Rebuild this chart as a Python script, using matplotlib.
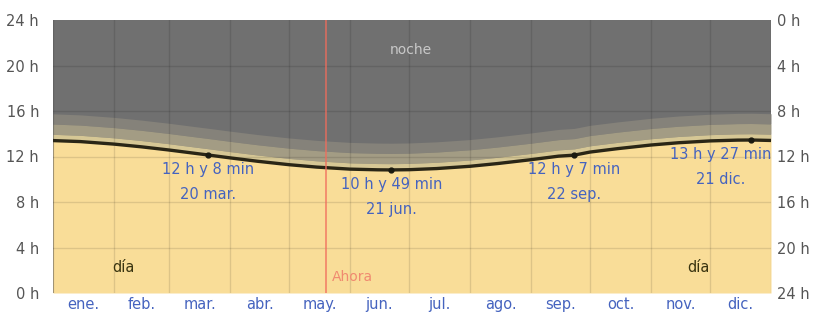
import numpy as np
import matplotlib.pyplot as plt

# day of year and hours of daylight
days = [0, 14, 31, 45, 59, 73, 79, 90, 104, 120, 134, 151, 165, 172, 181, 195,
        212, 226, 243, 257, 265, 273, 287, 304, 318, 334, 348, 355, 365]
daylight = [13.40, 13.31, 13.09, 12.85, 12.57, 12.26, 12.13, 11.88, 11.58, 11.28,
            11.07, 10.89, 10.83, 10.82, 10.84, 10.94, 11.14, 11.38, 11.72, 12.03,
            12.12, 12.39, 12.69, 13.01, 13.21, 13.37, 13.44, 13.45, 13.41]

# twilight durations stacked on top of daylight (hours)
civil = 0.55
nautical = 0.9
astronomical = 0.9

month_starts = [0, 31, 59, 90, 120, 151, 181, 212, 243, 273, 304, 334, 365]
month_labels = ["ene.", "feb.", "mar.", "abr.", "may.", "jun.", "jul.",
                "ago.", "sep.", "oct.", "nov.", "dic."]

key_days = [79, 172, 265, 355]
key_hours = [12.13, 10.82, 12.12, 13.45]
key_text = ["12 h y 8 min\n20 mar.", "10 h y 49 min\n21 jun.",
            "12 h y 7 min\n22 sep.", "13 h y 27 min\n21 dic."]

now_day = 139

fig = plt.figure(figsize=(8.14, 3.18), dpi=100)
ax = fig.add_axes([53 / 814, 25 / 318, 718 / 814, 273 / 318])

d = np.array(daylight)
ax.fill_between(days, 0, 24, color="#707070", lw=0)
ax.fill_between(days, d + civil + nautical, d + civil + nautical + astronomical,
                color="#85827a", lw=0)
ax.fill_between(days, d + civil, d + civil + nautical, color="#a39c84", lw=0)
ax.fill_between(days, d, d + civil, color="#d6c795", lw=0)
ax.fill_between(days, 0, d, color="#f9dd98", lw=0)

for m in month_starts:
    ax.axvline(m, color="black", alpha=0.11, lw=1)
for h in range(4, 24, 4):
    ax.axhline(h, color="black", alpha=0.11, lw=1)

ax.plot(days, daylight, color="#2a2616", lw=2.4)
ax.plot(key_days, key_hours, "o", color="#1a1a10", ms=3.5)

for i, (kd, kh, txt) in enumerate(zip(key_days, key_hours, key_text)):
    if i == 3:
        ax.text(365, kh - 0.6, txt, color="#4563bf", fontsize=10.5,
                ha="right", va="top", multialignment="center", linespacing=1.85)
    else:
        ax.text(kd, kh - 0.6, txt, color="#4563bf", fontsize=10.5,
                ha="center", va="top", multialignment="center", linespacing=1.85)

ax.axvline(now_day, color="#f06c5c", lw=1.2, alpha=0.8)
ax.text(now_day + 3, 1.4, "Ahora", color="#f08a70", fontsize=10, ha="left", va="center")

ax.text(36, 2.2, "día", color="#3a3410", fontsize=10.5, ha="center", va="center")
ax.text(328, 2.2, "día", color="#3a3410", fontsize=10.5, ha="center", va="center")
ax.text(182, 21.4, "noche", color="#c8c8c8", fontsize=10, ha="center", va="center")

ax.set_xlim(0, 365)
ax.set_ylim(0, 24)
mids = [(a + b) / 2 for a, b in zip(month_starts[:-1], month_starts[1:])]
ax.set_xticks(mids)
ax.set_xticklabels(month_labels, color="#4563bf", fontsize=10.5)
ax.set_yticks(range(0, 25, 4))
ax.set_yticklabels([f"{h} h" for h in range(0, 25, 4)], color="#555555", fontsize=10.5)
ax.tick_params(axis="y", length=0, pad=10)
ax.tick_params(axis="x", length=0, pad=3)

ax2 = ax.twinx()
ax2.set_ylim(0, 24)
ax2.set_yticks(range(0, 25, 4))
ax2.set_yticklabels([f"{24 - h} h" for h in range(0, 25, 4)], color="#555555", fontsize=10.5)
ax2.tick_params(length=0, pad=4)

for a in (ax, ax2):
    for s in a.spines.values():
        s.set_visible(False)

fig.savefig("out.png", dpi=100)
